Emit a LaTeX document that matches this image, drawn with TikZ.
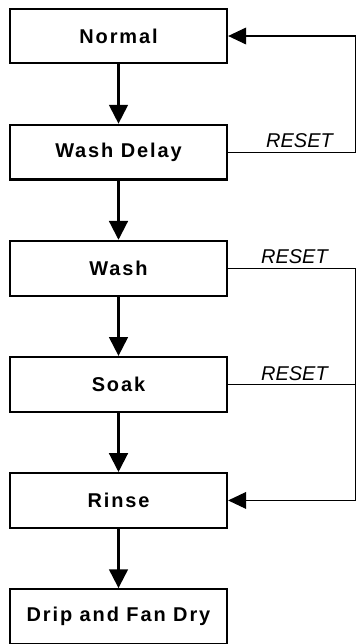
\documentclass[tikz,border=0pt]{standalone}
\usepackage{fontspec}
\setmainfont{Liberation Sans}
\newfontfamily\statefont[LetterSpace=9.5]{Liberation Sans}
\usetikzlibrary{positioning,arrows.meta}

\begin{document}
\begin{tikzpicture}[
  state/.style={draw,line width=1.5pt,minimum width=5.43cm,minimum height=1.37cm,
    font=\statefont\bfseries\fontsize{14.2}{16}\selectfont},
  flow/.style={line width=1.5pt,-{Triangle[length=0.47cm,width=0.47cm]}},
  rst/.style={line width=0.75pt},
  lbl/.style={above,inner sep=2.5pt,font=\itshape\fontsize{14.2}{16}\selectfont},
  node distance=1.48cm]
\useasboundingbox (0,0) rectangle (8.925,-16.1);
\node[state] (normal) at (2.9625,-0.9) {Normal};
\node[state,below=of normal] (delay) {Wash Delay};
\node[state,below=of delay] (wash) {Wash};
\node[state,below=of wash] (soak) {Soak};
\node[state,below=of soak] (rinse) {Rinse};
\node[state,below=of rinse] (dry) {Drip and Fan Dry};
\coordinate (rail) at (8.89,0);
% forward flow
\draw[flow](normal)--(delay);
\draw[flow](delay)--(wash);
\draw[flow](wash)--(soak);
\draw[flow](soak)--(rinse);
\draw[flow](rinse)--(dry);
% reset paths
\draw[rst,-{Triangle[length=0.45cm,width=0.42cm]}](delay.east)--node[lbl,pos=.56]{RESET}(delay.east-|rail)|-(normal.east);
\draw[rst,-{Triangle[length=0.45cm,width=0.42cm]}](wash.east)--node[lbl,pos=.52]{RESET}(wash.east-|rail)|-(rinse.east);
\draw[rst](soak.east)--node[lbl,pos=.52]{RESET}(soak.east-|rail);
\end{tikzpicture}
\end{document}
